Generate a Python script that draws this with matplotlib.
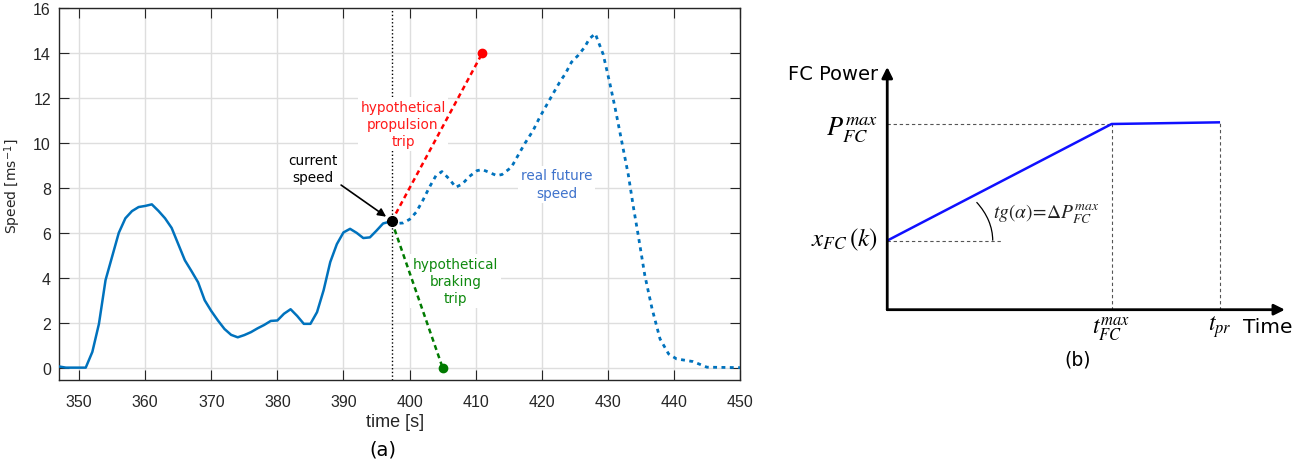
import numpy as np
import matplotlib
matplotlib.use("Agg")
import matplotlib.pyplot as plt
from matplotlib.patches import Arc

plt.rcParams["mathtext.fontset"] = "stix"
plt.rcParams["font.family"] = ["DejaVu Sans"]

# --- (a) measured speed up to now, and what actually came after ---
t_past = [347, 348, 351, 352, 353, 354, 355, 356, 357, 358, 359, 360, 361, 362,
          363, 364, 365, 366, 367, 368, 369, 370, 371, 372, 373, 374, 375, 376,
          377, 378, 379, 380, 381, 382, 383, 384, 385, 386, 387, 388, 389, 390,
          391, 392, 393, 394, 395, 396, 397.3]
v_past = [0.05, 0.0, 0.0, 0.7, 1.95, 3.9, 4.95, 6.0, 6.65, 6.97, 7.15, 7.2, 7.27,
          6.98, 6.65, 6.22, 5.5, 4.78, 4.3, 3.8, 3.0, 2.52, 2.1, 1.72, 1.46, 1.35,
          1.45, 1.58, 1.75, 1.9, 2.08, 2.1, 2.4, 2.6, 2.3, 1.95, 1.95, 2.47, 3.45,
          4.7, 5.5, 6.02, 6.18, 6.0, 5.77, 5.8, 6.1, 6.42, 6.52]

t_future = [397.3, 398, 399, 400, 401, 402, 403, 404, 404.9, 406, 407, 408, 409,
            410.2, 411, 412, 413.2, 414, 415.4, 416.4, 417.4, 418.7, 419.7, 420.7,
            421.7, 422.7, 423.6, 424.5, 425.5, 426.5, 427.2, 428.1, 429.3, 430.35,
            431.1, 432.1, 433.1, 433.9, 434.6, 435.6, 436.7, 437.9, 439.2, 440.4,
            442.9, 445.0, 450]
v_future = [6.52, 6.42, 6.44, 6.6, 6.92, 7.44, 8.03, 8.55, 8.73, 8.4, 8.03, 8.18,
            8.5, 8.77, 8.82, 8.7, 8.55, 8.6, 8.92, 9.44, 9.96, 10.56, 11.15, 11.67,
            12.19, 12.7, 13.1, 13.6, 13.9, 14.27, 14.64, 14.87, 13.95, 12.6, 11.57,
            10.08, 8.59, 7.1, 5.9, 4.11, 2.62, 1.28, 0.61, 0.39, 0.27, 0.02, 0.0]

t_now, v_now = 397.3, 6.52
propulsion_end = (411, 14.0)
braking_end = (405, 0.0)

# --- (b) fuel-cell power ramp (normalised units) ---
ramp_t = [0.0, 1.0, 1.483]
ramp_p = [0.372, 1.0, 1.009]

fig = plt.figure(figsize=(13.09, 4.64), dpi=100)

ax = fig.add_axes([0.0453, 0.1789, 0.5200, 0.8011])
ax.set_xlim(347, 450)
ax.set_ylim(-0.55, 16)
ax.set_xticks(np.arange(350, 451, 10))
ax.set_yticks(np.arange(0, 17, 2))
ax.grid(True, color="#dedede", lw=1.0, zorder=0)
ax.tick_params(direction="in", length=7, top=True, right=True,
               colors="#262626", labelsize=11.5)
ax.tick_params(axis="y", pad=6)
ax.tick_params(axis="x", pad=10)
for lab in ax.get_xticklabels() + ax.get_yticklabels():
    lab.set_family("Liberation Sans")
for s in ax.spines.values():
    s.set_color("#262626")
    s.set_linewidth(1.0)

ax.axvline(t_now, color="black", ls=":", lw=1.0, zorder=2)
ax.plot(t_past, v_past, color="#0072BD", lw=1.8, zorder=3)
ax.plot(t_future, v_future, color="#0072BD", lw=2.0, ls=(0, (1.4, 1.6)), zorder=3)
ax.plot([t_now, propulsion_end[0]], [v_now, propulsion_end[1]], color="red",
        lw=1.8, ls=(0, (2.0, 1.5)), zorder=4)
ax.plot(*propulsion_end, "o", color="red", ms=6, zorder=5)
ax.plot([t_now, braking_end[0]], [v_now, braking_end[1]], color="#007a00",
        lw=1.8, ls=(0, (2.0, 1.5)), zorder=4)
ax.plot(*braking_end, "o", color="#007a00", ms=6, zorder=5)
ax.plot(t_now, v_now, "o", color="black", ms=7, zorder=6)

box = dict(facecolor="white", edgecolor="none", pad=2)
note = dict(ha="center", va="center", fontsize=9.8, linespacing=1.3, zorder=2.5)
ax.text(399.0, 10.85, "hypothetical\npropulsion\ntrip", color="#ff1a1a",
        bbox=box, **note)
ax.text(422.3, 8.17, "real future\nspeed", color="#3f73cc", bbox=box, **note)
ax.text(407.0, 3.85, "hypothetical\nbraking\ntrip", color="#0f8a0f",
        bbox=box, **note)
ax.text(385.4, 8.86, "current\nspeed", color="black", **note)
ax.annotate("", xy=(396.8, 6.65), xytext=(389.3, 8.2),
            arrowprops=dict(arrowstyle="-|>", color="black", lw=1.2,
                            mutation_scale=12), zorder=6)

ax.set_xlabel("time [s]", fontsize=13, family="Liberation Sans",
              color="#262626", labelpad=0)
ax.xaxis.set_label_coords(0.494, -0.09)
ax.set_ylabel("Speed [ms$^{\\mathregular{-1}}$]", fontsize=10, color="#262626")
ax.yaxis.set_label_coords(-0.054, 0.525)
fig.text(0.2925, 0.03, "(a)", fontsize=14, ha="center", va="center")

# --- schematic panel ---
bx = fig.add_axes([0.6778, 0.3304, 0.3086, 0.5403])
bx.set_xlim(0, 1.8)
bx.set_ylim(0, 1.35)
bx.axis("off")

arrow = dict(arrowstyle="-|>", color="black", lw=2.0, mutation_scale=16,
             shrinkA=0, shrinkB=0)
bx.annotate("", xy=(0, 1.307), xytext=(0, 0), arrowprops=arrow, annotation_clip=False)
bx.annotate("", xy=(1.772, 0), xytext=(0, 0), arrowprops=arrow, annotation_clip=False)

guide = dict(color="#555555", lw=0.8, ls=(0, (3, 2.5)))
bx.plot([0, ramp_t[1]], [ramp_p[1], ramp_p[1]], **guide)
bx.plot([ramp_t[1], ramp_t[1]], [0, ramp_p[1]], **guide)
bx.plot([ramp_t[2], ramp_t[2]], [0, ramp_p[2]], **guide)
bx.plot([0, 0.51], [ramp_p[0], ramp_p[0]], **guide)

bx.plot(ramp_t, ramp_p, color="#1010ff", lw=1.8, solid_capstyle="butt")

# angle arc at the start of the ramp (drawn in pixel-space proportions)
sx = 224.4 / 185.7
r = 0.47
bx.add_patch(Arc((0, ramp_p[0]), 2 * r, 2 * r / sx, theta1=0, theta2=27.5,
                 color="black", lw=0.9))

bx.text(-0.04, 1.27, "FC Power", ha="right", va="center", fontsize=14)
bx.text(1.585, -0.09, "Time", ha="left", va="center", fontsize=14.5)
bx.text(-0.04, ramp_p[1] - 0.03, "$P_{FC}^{max}$", ha="right", va="center",
        fontsize=19)
bx.text(-0.04, ramp_p[0] + 0.01, "$x_{FC}\\,(k)$", ha="right", va="center",
        fontsize=18)
bx.text(ramp_t[1], -0.1, "$t_{FC}^{max}$", ha="center", va="center", fontsize=17)
bx.text(ramp_t[2], -0.09, "$t_{pr}$", ha="center", va="center", fontsize=17)
bx.text(0.47, 0.52, "$tg(\\alpha)\\!=\\!\\Delta P_{FC}^{max}$", ha="left",
        va="center", fontsize=14, color="#222222")
fig.text(0.8233, 0.224, "(b)", fontsize=13.5, ha="center", va="center")

fig.savefig("out.png", dpi=100)
